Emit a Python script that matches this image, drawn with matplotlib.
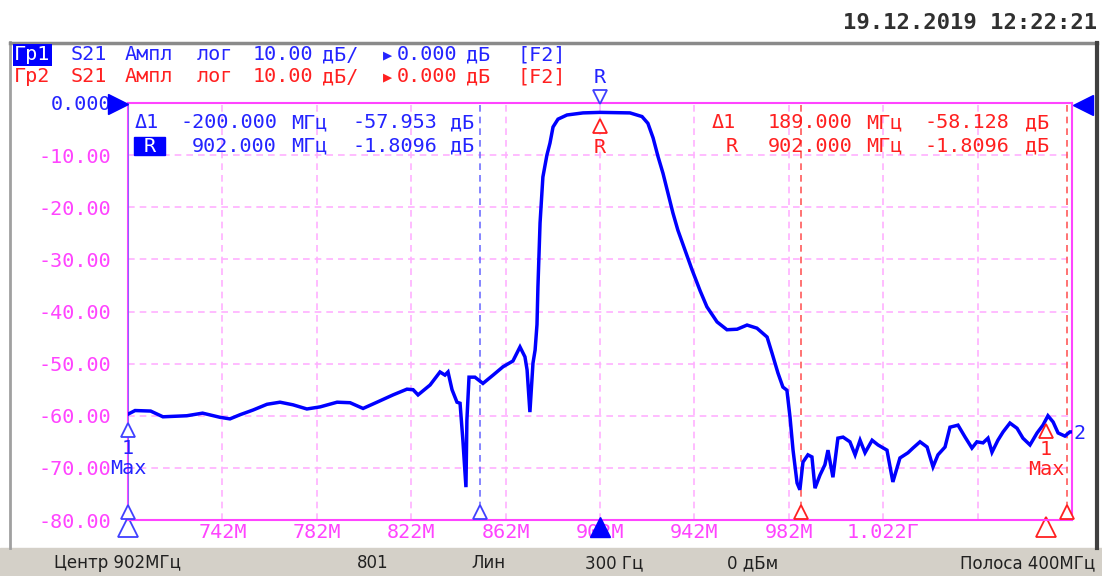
import matplotlib
matplotlib.use('Agg')
from matplotlib import pyplot as plt
from matplotlib.patches import Rectangle
from matplotlib.lines import Line2D

W, H = 1102, 576
MONO = ['DejaVu Sans Mono', 'DejaVu Sans']

freq = [702.0, 705.0, 711.6, 716.8, 726.9, 733.6, 741.0, 745.2, 749.5, 755.0,
        760.9, 766.4, 771.9, 777.8, 783.4, 790.6, 796.1, 801.6, 804.6, 807.5,
        814.3, 820.2, 822.8, 824.9, 830.0, 834.2, 836.3, 837.6, 839.3, 841.4,
        842.7, 843.9, 845.2, 845.6, 846.5, 849.0, 852.4, 856.7, 860.9, 865.1,
        868.1, 870.2, 871.1, 872.3, 873.6, 874.5, 875.3, 875.7, 876.6, 877.8,
        879.5, 880.8, 882.1, 884.2, 888.0, 894.8, 902.0, 914.7, 919.8, 922.3,
        924.5, 926.6, 928.7, 930.8, 932.9, 935.0, 938.0, 941.0, 944.4, 947.3,
        951.6, 955.8, 960.1, 964.3, 968.5, 972.8, 974.9, 977.4, 979.5, 981.2,
        982.5, 983.8, 985.5, 986.7, 988.0, 990.1, 991.8, 993.1, 995.2, 997.3,
        998.6, 1000.7, 1002.8, 1005.0, 1007.9, 1010.1, 1012.2, 1014.3, 1017.3, 1019.8,
        1023.6, 1026.1, 1029.1, 1032.5, 1034.6, 1037.6, 1040.6, 1043.1, 1045.2, 1048.2,
        1050.3, 1053.7, 1056.7, 1059.6, 1061.7, 1064.3, 1066.4, 1068.1, 1070.6, 1072.8,
        1075.7, 1078.7, 1081.2, 1084.2, 1087.2, 1089.7, 1091.8, 1094.0, 1096.1, 1099.0,
        1101.1, 1102.0]
s21 = [-59.7, -59.0, -59.1, -60.2, -60.0, -59.5, -60.3, -60.6, -59.8, -58.9,
       -57.8, -57.4, -57.9, -58.7, -58.3, -57.4, -57.5, -58.6, -58.0, -57.4,
       -56.0, -54.9, -55.0, -56.0, -54.1, -51.6, -52.2, -51.6, -55.0, -57.4,
       -57.6, -64.7, -73.7, -60.8, -52.6, -52.6, -53.8, -52.2, -50.6, -49.5,
       -46.8, -48.7, -51.2, -59.3, -49.9, -47.4, -42.5, -35.3, -23.0, -14.2,
       -10.0, -7.7, -4.6, -3.1, -2.3, -1.9, -1.8, -1.9, -2.6, -3.9,
       -6.7, -10.3, -13.5, -17.3, -21.1, -24.4, -28.2, -32.0, -36.0, -39.1,
       -42.0, -43.5, -43.4, -42.6, -43.2, -44.9, -48.0, -51.8, -54.5, -55.1,
       -60.2, -66.6, -72.9, -74.2, -68.9, -67.5, -67.9, -73.9, -71.4, -69.4,
       -66.6, -71.8, -64.3, -64.1, -65.0, -67.5, -64.7, -67.1, -64.7, -65.6,
       -66.6, -72.7, -68.1, -67.1, -66.2, -65.0, -66.0, -69.8, -67.5, -66.0,
       -62.2, -61.8, -64.1, -66.2, -65.0, -65.2, -64.3, -67.0, -64.7, -63.1,
       -61.4, -62.4, -64.3, -65.6, -63.3, -61.8, -60.0, -61.2, -63.3, -63.9,
       -63.1, -63.1]

y_ticks = [0, -10, -20, -30, -40, -50, -60, -70, -80]
y_tick_labels = ['0.000', '-10.00', '-20.00', '-30.00', '-40.00', '-50.00',
                 '-60.00', '-70.00', '-80.00']
x_ticks = [742, 782, 822, 862, 902, 942, 982, 1022, 1062]
x_tick_labels = ['742M', '782M', '822M', '862M', '902M', '942M', '982M', '1.022Г', '']

center, span = 902, 400
ref_freq, ref_val = 902.0, -1.8096
d1_blue = (-200.0, -57.953)
d1_red = (189.0, -58.128)
blue_marks = [702, 851]
red_marks = [987, 1100]

BLUE = '#0000ff'
TBLUE = '#2424ff'
RED = '#ff2020'
MAG = '#ff44ff'
GRID = '#ffb0ff'
FS = 14.5


def fx(x):
    return x / W


def fy(y):
    return 1 - y / H


def ftext(x, y, s, **kw):
    kw.setdefault('family', MONO)
    kw.setdefault('fontsize', FS)
    kw.setdefault('va', 'center')
    fig.text(fx(x), fy(y), s, **kw)


fig = plt.figure(figsize=(W / 100, H / 100), dpi=100)
fig.patch.set_facecolor('white')

# рамка окна и строка состояния
fig.add_artist(Line2D([fx(10), fx(10)], [fy(42), fy(548)], transform=fig.transFigure, color='#a0a0a0', lw=2))
fig.add_artist(Line2D([fx(10), fx(1097)], [fy(43), fy(43)], transform=fig.transFigure, color='#8a8a8a', lw=2.5))
fig.add_artist(Line2D([fx(1097), fx(1097)], [fy(43), fy(548)], transform=fig.transFigure, color='#404040', lw=3))
fig.add_artist(Rectangle((0, 0), 1, fy(548), transform=fig.transFigure, color='#d4d0c8', zorder=0))

ax = fig.add_axes([fx(128), fy(520), (1072 - 128) / W, (520 - 103) / H])
ax.set_xlim(center - span / 2, center + span / 2)
ax.set_ylim(-80, 0)
ax.set_facecolor('white')
for sp in ax.spines.values():
    sp.set_color(MAG)
    sp.set_linewidth(1.5)

ax.set_xticks(x_ticks, x_tick_labels)
ax.set_yticks(y_ticks, y_tick_labels)
ax.tick_params(axis='both', length=0, colors=MAG, labelsize=FS)
ax.tick_params(axis='x', pad=2)
ax.tick_params(axis='y', pad=12)
for lab in ax.get_xticklabels() + ax.get_yticklabels():
    lab.set_family(MONO)
ax.get_yticklabels()[0].set_color(TBLUE)
ax.grid(True, color=GRID, ls=(0, (4, 3)), lw=1.2)

# линии маркеров
ax.axvline(702, color='#7070ff', lw=1.2, zorder=3)
ax.axvline(blue_marks[1], color='#7070ff', ls=(0, (4, 3)), lw=1.2, zorder=3)
for m in red_marks:
    ax.axvline(m, color='#ff5a5a', ls=(0, (4, 3)), lw=1.2, zorder=3)

ax.plot(freq, s21, color=BLUE, lw=2.5, zorder=5, solid_joinstyle='miter')

# треугольники маркеров
for m in blue_marks:
    ax.plot(m, -78.5, marker='^', ms=10, mfc='white', mec='#4040ff', mew=1.3, clip_on=False, zorder=6)
for m in red_marks:
    ax.plot(m, -78.5, marker='^', ms=10, mfc='white', mec=RED, mew=1.3, clip_on=False, zorder=6)
ax.plot(ref_freq + d1_blue[0], -81.3, marker='^', ms=15, mfc='white', mec='#4040ff', mew=1.3, clip_on=False)
ax.plot(ref_freq + d1_red[0], -81.3, marker='^', ms=15, mfc='white', mec=RED, mew=1.3, clip_on=False)
ax.plot(ref_freq, -81.3, marker='^', ms=15, color=BLUE, clip_on=False, zorder=7)

# маркер R
ax.plot(ref_freq, 1.1, marker='v', ms=10, mfc='white', mec='#4040ff', mew=1.3, clip_on=False, zorder=6)
ax.text(ref_freq, 4.8, 'R', color=TBLUE, ha='center', va='center', fontsize=FS, family=MONO, clip_on=False)
ax.plot(ref_freq, -4.4, marker='^', ms=10, mfc='white', mec=RED, mew=1.3, zorder=6)
ax.text(ref_freq, -8.6, 'R', color=RED, ha='center', va='center', fontsize=FS, family=MONO)

# маркеры 1 Max
for df, dv, col in [(d1_blue[0], d1_blue[1], '#4040ff'), (d1_red[0], d1_red[1], RED)]:
    f = ref_freq + df
    v = ref_val + dv
    ax.plot(f, v - 3.0, marker='^', ms=10, mfc='white', mec=col, mew=1.3, clip_on=False, zorder=6)
    tc = TBLUE if col != RED else RED
    ax.text(f, v - 6.6, '1', color=tc, ha='center', va='center', fontsize=FS, family=MONO, clip_on=False)
    ax.text(f, v - 10.3, 'Max', color=tc, ha='center', va='center', fontsize=FS, family=MONO, clip_on=False, zorder=8)
ax.text(1102.5, -63.5, '2', color=TBLUE, ha='left', va='center', fontsize=FS, family=MONO, clip_on=False)

# опорный уровень
fig.add_artist(Line2D([fx(118)], [fy(104)], transform=fig.transFigure, marker='>', ms=14, color=BLUE))
fig.add_artist(Line2D([fx(1083)], [fy(105)], transform=fig.transFigure, marker='<', ms=14, color=BLUE))

# показания маркеров
ftext(135, 123, 'Δ1', color=TBLUE)
ftext(180, 123, f'{d1_blue[0]:.3f}', color=TBLUE)
ftext(291, 123, 'МГц', color=TBLUE)
ftext(352, 123, f'{d1_blue[1]:.3f}', color=TBLUE)
ftext(450, 123, 'дБ', color=TBLUE)
fig.add_artist(Rectangle((fx(134), fy(155)), 31 / W, 18 / H, transform=fig.transFigure, color=BLUE))
ftext(150, 146, 'R', color='white', ha='center')
ftext(192, 146, f'{ref_freq:.3f}', color=TBLUE)
ftext(291, 146, 'МГц', color=TBLUE)
ftext(352, 146, f'{ref_val:.4f}', color=TBLUE)
ftext(450, 146, 'дБ', color=TBLUE)

ftext(712, 123, 'Δ1', color=RED)
ftext(768, 123, f'{d1_red[0]:.3f}', color=RED)
ftext(866, 123, 'МГц', color=RED)
ftext(925, 123, f'{d1_red[1]:.3f}', color=RED)
ftext(1025, 123, 'дБ', color=RED)
ftext(726, 146, 'R', color=RED)
ftext(768, 146, f'{ref_freq:.3f}', color=RED)
ftext(866, 146, 'МГц', color=RED)
ftext(925, 146, f'{ref_val:.4f}', color=RED)
ftext(1025, 146, 'дБ', color=RED)

# заголовок трасс
ftext(14, 55, 'Гр1', color='white', bbox=dict(facecolor=BLUE, edgecolor='none', pad=1.0))
ftext(14, 77, 'Гр2', color=RED)
for yy, col in [(55, TBLUE), (77, RED)]:
    ftext(71, yy, 'S21', color=col)
    ftext(125, yy, 'Ампл', color=col)
    ftext(197, yy, 'лог', color=col)
    ftext(253, yy, '10.00', color=col)
    ftext(322, yy, 'дБ/', color=col)
    ftext(383, yy, '▶', color=col, fontsize=11)
    ftext(397, yy, '0.000', color=col)
    ftext(466, yy, 'дБ', color=col)
    ftext(518, yy, '[F2]', color=col)

ftext(1097, 23, '19.12.2019 12:22:21', color='#303030', ha='right', fontsize=16, weight='bold')

# строка состояния
st = dict(family='DejaVu Sans', fontsize=12, color='#202020')
ftext(54, 563, 'Центр 902МГц', **st)
ftext(357, 563, '801', **st)
ftext(471, 563, 'Лин', **st)
ftext(585, 563, '300 Гц', **st)
ftext(727, 563, '0 дБм', **st)
ftext(1095, 563, 'Полоса 400МГц', ha='right', **st)

plt.savefig('out.png', dpi=100)
